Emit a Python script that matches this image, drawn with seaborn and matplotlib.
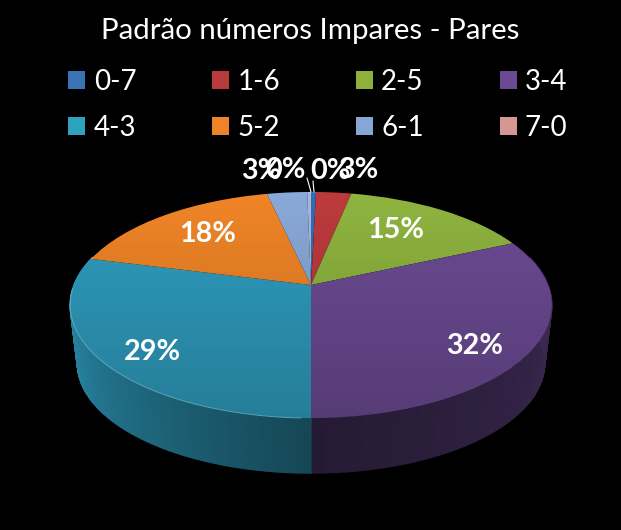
import matplotlib
matplotlib.use('Agg')
import matplotlib.pyplot as plt
from matplotlib.patches import Patch, Circle
from matplotlib.transforms import Transform
import seaborn as sns
import numpy as np

categories = ['0-7', '1-6', '2-5', '3-4', '4-3', '5-2', '6-1', '7-0']
values = [0.4, 2.8, 15.1, 31.7, 29.0, 17.5, 3.2, 0.3]
pct_labels = ['0%', '3%', '15%', '32%', '29%', '18%', '3%', '0%']
slice_colors = ['#2f6fb3', '#bd3a3c', '#8fb43f', '#6c4b94', '#2f9dbf', '#f08527', '#8aa9d8', '#a9b8e0']
legend_colors = ['#3a72b5', '#b83a3a', '#8fb03c', '#6b4a95', '#2ea3bf', '#ee8428', '#86a6d6', '#d69694']
title = 'Padrão números Impares - Pares'

sns.set_style('white')
plt.rcParams['font.family'] = ['Lato', 'DejaVu Sans']


# tilted disc: unit circle -> picture pixels
class Tilt(Transform):
    input_dims = 2
    output_dims = 2

    def __init__(self, dy=0.0, scale=1.0):
        super().__init__()
        self.dy = dy
        self.scale = scale

    def transform_non_affine(self, xy):
        xy = np.asarray(xy)
        d = 1 + 0.177 * xy[:, 1]
        return np.column_stack([311 + self.scale * 237 * xy[:, 0] / d,
                                285 + self.dy - self.scale * 109.5 * xy[:, 1] / d])


fig = plt.figure(figsize=(6.21, 5.30), dpi=100, facecolor='black')
ax = fig.add_axes([0, 0, 1, 1])

wedges, _ = ax.pie(values, colors=slice_colors, startangle=90, counterclock=False, radius=1)
ax.set_aspect('auto')
ax.set_xlim(0, 621)
ax.set_ylim(530, 0)
ax.axis('off')

top = Tilt()
bottom = Tilt(dy=59, scale=0.97)

for w, col in zip(wedges, slice_colors):
    w.set_transform(top + ax.transData)
    w.set_zorder(3)
    w.set_linewidth(0)
    # side wall, strip by strip
    rgb = np.array(matplotlib.colors.to_rgb(col))
    a1, a2 = sorted([w.theta1, w.theta2])
    steps = np.arange(a1, a2, 1.0)
    steps = np.append(steps, a2)
    for t1, t2 in zip(steps[:-1], steps[1:]):
        if np.sin(np.radians(t1)) > 0.25 and np.sin(np.radians(t2)) > 0.25:
            continue
        ring = np.radians([t1, t2])
        circ = np.column_stack([np.cos(ring), np.sin(ring)])
        pts = np.vstack([top.transform(circ), bottom.transform(circ)[::-1]])
        mid = (t1 + t2) / 2 % 360
        # clockwise angle from the top of the disc
        th = (90 - mid) % 360
        f = np.interp(th, [90, 180, 180.01, 255, 275], [0.55, 0.34, 0.45, 0.85, 0.95])
        c = tuple(rgb * f)
        ax.fill(pts[:, 0], pts[:, 1], facecolor=c, edgecolor=c, lw=1.0, zorder=2)

# darkening towards the front of the top face
shade = np.zeros((256, 1, 4))
shade[:, 0, 3] = np.linspace(0, 0.2, 256)
disc = Circle((0, 0), 1, transform=top + ax.transData, facecolor='none', edgecolor='none')
ax.add_patch(disc)
im = ax.imshow(shade, extent=(60, 560, 418, 192), aspect='auto', zorder=4)
im.set_clip_path(disc)
ax.set_xlim(0, 621)
ax.set_ylim(530, 0)

# thin light rim on the front edge
ang = np.radians(np.linspace(182, 268, 100))
rim = top.transform(np.column_stack([np.cos(ang), np.sin(ang)]))
ax.plot(rim[:, 0], rim[:, 1], color='#7fc4d8', lw=0.7, alpha=0.6, zorder=5)

# leader lines of the two 0% labels
ax.plot([307, 311], [178, 192], color='white', lw=0.8, zorder=6)
ax.plot([313, 314], [181, 192], color='white', lw=0.8, zorder=6)

label_xy = [(330, 171), (358, 170), (396, 230), (475, 346), (152, 352), (208, 234), (261, 171), (285, 170)]
for txt, (x, y) in zip(pct_labels, label_xy):
    ax.text(x, y, txt, color='white', fontsize=20.7, fontweight='bold', ha='center', va='center', zorder=7)

ax.text(310, 31, title, color='white', fontsize=21.2, ha='center', va='center')

handles = [Patch(facecolor=c, edgecolor='none', label=l) for c, l in zip(legend_colors, categories)]
# fill row by row
order = [0, 4, 1, 5, 2, 6, 3, 7]
leg = ax.legend([handles[i] for i in order], [categories[i] for i in order], ncol=4,
                loc='center', bbox_to_anchor=(318 / 621, 1 - 105 / 530), frameon=False,
                fontsize=20, labelcolor='white', handlelength=0.61, handleheight=0.61,
                handletextpad=0.3, columnspacing=2.73, labelspacing=0.73)

fig.savefig('out.png', dpi=100, facecolor='black')
